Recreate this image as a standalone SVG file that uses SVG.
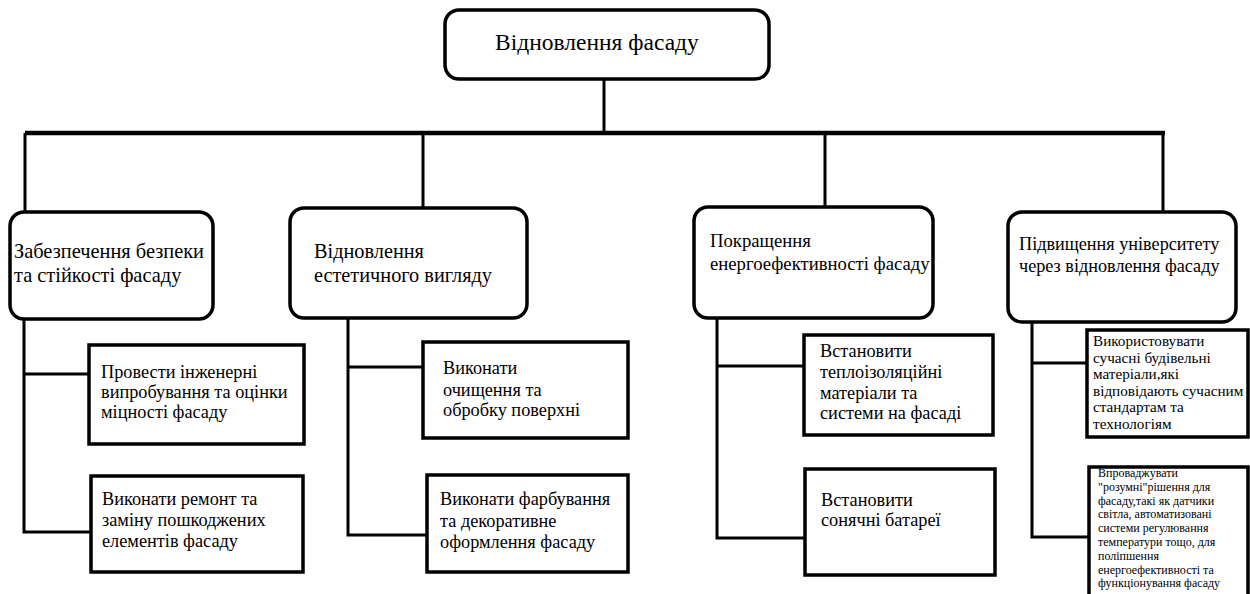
<svg xmlns="http://www.w3.org/2000/svg" width="1250" height="594" viewBox="0 0 1250 594">
<style>
.rb{fill:#fff;stroke:#000;stroke-width:3.5}
.sb{fill:#fff;stroke:#000;stroke-width:3.5}
.c{fill:none;stroke:#000;stroke-width:3}
text{font-family:"Liberation Serif","Times New Roman",serif;fill:#000}
.t0{font-size:23.5px}
.t2{font-size:18.3px}
.t3{font-size:15.2px}
.t4{font-size:12px}
</style>
<rect width="1250" height="594" fill="#fff"/>
<g id="connectors">
<path class="c" d="M604 79V133"/>
<path d="M25 133H1165" stroke="#000" stroke-width="4.5" fill="none"/>
<path class="c" d="M25 133V212M423 133V208M825 133V207M1163 133V212"/>
<path class="c" d="M24 319V532H91M24 374H89"/>
<path class="c" d="M348 318V535H427M348 367H423"/>
<path class="c" d="M717 318V538H805M717 366H804"/>
<path class="c" d="M1032 322V537H1089M1032 363H1087"/>
</g>
<g id="root">
<rect class="rb" x="445" y="10" width="324" height="69" rx="14"/>
<text class="t0" x="495" y="50">Відновлення фасаду</text>
</g>
<g id="n1">
<rect class="rb" x="10" y="212" width="203" height="107" rx="14"/>
<text font-size="20.4" x="14" y="258">Забезпечення безпеки</text>
<text font-size="20.4" x="14" y="282">та стійкості фасаду</text>
</g>
<g id="n2">
<rect class="rb" x="290" y="208" width="237" height="110" rx="14"/>
<text font-size="20.3" x="314" y="258">Відновлення</text>
<text font-size="20.3" x="314" y="282">естетичного вигляду</text>
</g>
<g id="n3">
<rect class="rb" x="694" y="207" width="239" height="111" rx="14"/>
<text font-size="18.7" x="710" y="247">Покращення</text>
<text font-size="18.7" x="710" y="270">енергоефективності фасаду</text>
</g>
<g id="n4">
<rect class="rb" x="1008" y="212" width="228" height="110" rx="14"/>
<text font-size="18.2" x="1019" y="250">Підвищення університету</text>
<text font-size="18.2" x="1019" y="272">через відновлення фасаду</text>
</g>
<g id="n1a">
<rect class="sb" x="89" y="345" width="215" height="99"/>
<text class="t2" x="101" y="378">Провести інженерні</text>
<text class="t2" x="101" y="398">випробування та оцінки</text>
<text class="t2" x="101" y="418">міцності фасаду</text>
</g>
<g id="n1b">
<rect class="sb" x="91" y="476" width="212" height="96"/>
<text class="t2" x="102" y="505">Виконати ремонт та</text>
<text class="t2" x="102" y="526">заміну пошкоджених</text>
<text class="t2" x="102" y="547">елементів фасаду</text>
</g>
<g id="n2a">
<rect class="sb" x="423" y="342" width="205" height="96"/>
<text class="t2" x="443" y="374">Виконати</text>
<text class="t2" x="443" y="396">очищення та</text>
<text class="t2" x="443" y="416">обробку поверхні</text>
</g>
<g id="n2b">
<rect class="sb" x="427" y="475" width="201" height="97"/>
<text class="t2" x="440" y="505">Виконати фарбування</text>
<text class="t2" x="440" y="527">та декоративне</text>
<text class="t2" x="440" y="548">оформлення фасаду</text>
</g>
<g id="n3a">
<rect class="sb" x="804" y="335" width="189" height="100"/>
<text class="t2" x="820" y="357">Встановити</text>
<text class="t2" x="820" y="378">теплоізоляційні</text>
<text class="t2" x="820" y="399">матеріали та</text>
<text class="t2" x="820" y="419">системи на фасаді</text>
</g>
<g id="n3b">
<rect class="sb" x="805" y="469" width="190" height="106"/>
<text class="t2" x="821" y="506">Встановити</text>
<text class="t2" x="821" y="526">сонячні батареї</text>
</g>
<g id="n4a">
<rect class="sb" x="1087" y="330" width="161" height="107"/>
<text class="t3" x="1093" y="346">Використовувати</text>
<text class="t3" x="1093" y="362.5">сучасні будівельні</text>
<text class="t3" x="1093" y="379">матеріали,які</text>
<text class="t3" x="1093" y="395.5">відповідають сучасним</text>
<text class="t3" x="1093" y="412">стандартам та</text>
<text class="t3" x="1093" y="428.5">технологіям</text>
</g>
<g id="n4b">
<rect class="sb" x="1089" y="467" width="159" height="131"/>
<text class="t4" x="1098" y="477">Впроваджувати</text>
<text class="t4" x="1098" y="490.8">"розумні"рішення для</text>
<text class="t4" x="1098" y="504.6">фасаду,такі як датчики</text>
<text class="t4" x="1098" y="518.4">світла, автоматизовані</text>
<text class="t4" x="1098" y="532.2">системи регулювання</text>
<text class="t4" x="1098" y="546">температури тощо, для</text>
<text class="t4" x="1098" y="559.8">поліпшення</text>
<text class="t4" x="1098" y="573.6">енергоефективності та</text>
<text class="t4" x="1098" y="587.4">функціонування фасаду</text>
</g>
</svg>
